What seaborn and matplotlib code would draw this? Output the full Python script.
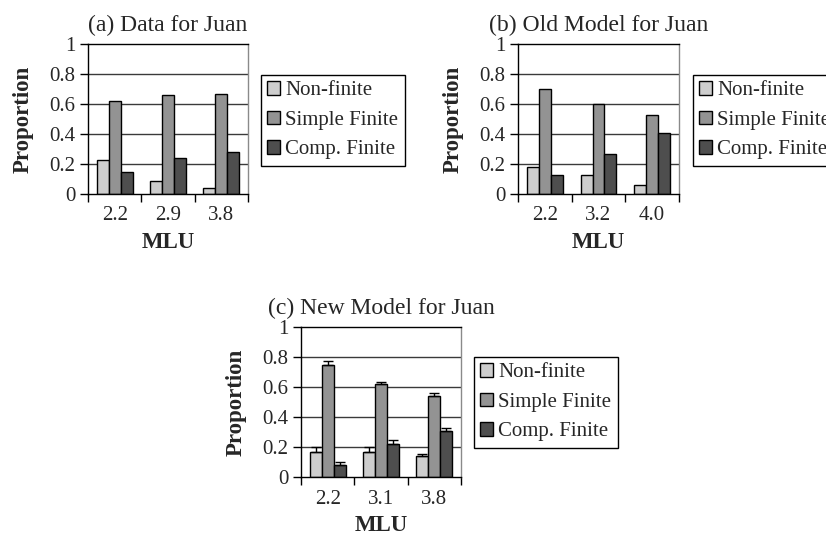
import numpy as np
import pandas as pd
import matplotlib
matplotlib.use("Agg")
import matplotlib.pyplot as plt
import matplotlib.patches as mpatches
import seaborn as sns

# ---------------- data ----------------
series = ["Non-finite", "Simple Finite", "Comp. Finite"]

a_title = "(a) Data for Juan"
a_mlu = ["2.2", "2.9", "3.8"]
a_nonfinite = [0.23, 0.09, 0.04]
a_simple = [0.62, 0.66, 0.67]
a_comp = [0.15, 0.24, 0.28]

b_title = "(b) Old Model for Juan"
b_mlu = ["2.2", "3.2", "4.0"]
b_nonfinite = [0.18, 0.13, 0.06]
b_simple = [0.70, 0.60, 0.53]
b_comp = [0.13, 0.27, 0.41]

c_title = "(c) New Model for Juan"
c_mlu = ["2.2", "3.1", "3.8"]
c_nonfinite = [0.17, 0.17, 0.14]
c_simple = [0.75, 0.62, 0.54]
c_comp = [0.08, 0.22, 0.31]
c_err_nonfinite = [0.027, 0.027, 0.011]
c_err_simple = [0.023, 0.015, 0.018]
c_err_comp = [0.018, 0.029, 0.014]

y_ticks = [0, 0.2, 0.4, 0.6, 0.8, 1]
y_ticklabels = ["0", "0.2", "0.4", "0.6", "0.8", "1"]

colors = ["#cdcdcd", "#939393", "#4e4e4e"]

sns.set_style("white")
plt.rcParams["font.family"] = ["Liberation Serif", "DejaVu Serif"]
plt.rcParams["font.size"] = 15

W, H = 826, 536
fig = plt.figure(figsize=(W / 100, H / 100), dpi=100)


def make_df(mlu, nf, sf, cf):
    rows = []
    for s, vals in zip(series, [nf, sf, cf]):
        for m, v in zip(mlu, vals):
            rows.append({"MLU": m, "Type": s, "Proportion": v})
    return pd.DataFrame(rows)


def panel(rect, title, mlu, nf, sf, cf, legend_xy, errs=None):
    ax = fig.add_axes([rect[0] / W, 1 - rect[3] / H, (rect[2] - rect[0]) / W, (rect[3] - rect[1]) / H])
    df = make_df(mlu, nf, sf, cf)
    sns.barplot(data=df, x="MLU", y="Proportion", hue="Type", order=mlu,
                hue_order=series, palette=colors, saturation=1, width=0.67,
                edgecolor="black", linewidth=1.0, errorbar=None, legend=False, ax=ax)
    if errs is not None:
        for cont, e in zip(ax.containers, errs):
            xs = [p.get_x() + p.get_width() / 2 for p in cont.patches]
            ys = [p.get_height() for p in cont.patches]
            ax.errorbar(xs, ys, yerr=[np.zeros(len(e)), e], fmt="none",
                        ecolor="black", elinewidth=1.0, capsize=3.5, capthick=1.0, zorder=5)
    ax.set_ylim(0, 1)
    ax.set_xlim(-0.5, len(mlu) - 0.5)
    ax.set_yticks(y_ticks)
    ax.set_yticklabels(y_ticklabels)
    ax.set_axisbelow(True)
    for yv in y_ticks[1:-1]:
        ax.axhline(yv, color="#3a3a3a", lw=1.0, zorder=0)
    ax.tick_params(axis="y", which="major", direction="out", length=6, width=1,
                   pad=3, left=True, labelsize=15, color="black")
    ax.tick_params(axis="x", which="major", length=0, pad=9, labelsize=15)
    ax.set_xticks(np.arange(len(mlu) + 1) - 0.5, minor=True)
    ax.tick_params(axis="x", which="minor", direction="out", length=6, width=1,
                   bottom=True, color="black")
    for side in ["left", "bottom", "top"]:
        ax.spines[side].set_color("black")
        ax.spines[side].set_linewidth(1.0)
    ax.spines["right"].set_color("#8a8a8a")
    ax.spines["right"].set_linewidth(1.0)
    ax.set_ylabel("Proportion", fontweight="bold", fontsize=16.5, labelpad=11)
    ax.set_xlabel("MLU", fontweight="bold", fontsize=16.5, labelpad=5)
    ax.set_title(title, fontsize=17, pad=9)
    handles = [mpatches.Patch(facecolor=c, edgecolor="black", linewidth=1.0) for c in colors]
    leg = ax.legend(handles, series, loc="upper left",
                    bbox_to_anchor=(legend_xy[0] / W, 1 - legend_xy[1] / H),
                    bbox_transform=fig.transFigure, frameon=True, fancybox=False,
                    framealpha=1, edgecolor="black", fontsize=15,
                    handlelength=0.62, handleheight=0.62, handletextpad=0.25,
                    labelspacing=0.5, borderpad=0.3, borderaxespad=0)
    leg.get_frame().set_linewidth(1.0)
    return ax


panel((88, 44, 248, 194), a_title, a_mlu, a_nonfinite, a_simple, a_comp, (261, 75))
panel((518, 44, 679, 194), b_title, b_mlu, b_nonfinite, b_simple, b_comp, (693, 75))
panel((301, 327, 461, 477), c_title, c_mlu, c_nonfinite, c_simple, c_comp, (474, 357),
      errs=[c_err_nonfinite, c_err_simple, c_err_comp])

fig.savefig("out.png", dpi=100)
